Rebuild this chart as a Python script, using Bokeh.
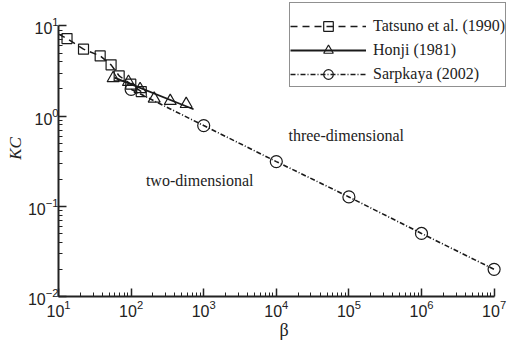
from bokeh.plotting import figure
from bokeh.models import (Legend, LegendItem, Label, FixedTicker, LogTickFormatter)
from bokeh.embed import file_html
from bokeh.resources import INLINE

# Tatsuno et al. (1990)
tatsuno_beta = [13.1, 22.1, 37.5, 53, 68.5, 99, 138]
tatsuno_kc = [7.23, 5.52, 4.65, 3.70, 2.79, 2.26, 1.87]
tatsuno_line_beta = [10, 13.1, 22.1, 37.5, 53, 68.5, 99, 138]
tatsuno_line_kc = [8.09, 7.23, 5.52, 4.65, 3.70, 2.79, 2.26, 1.87]

# Honji (1981)
honji_beta = [56.6, 92, 133, 208, 346, 574]
honji_kc = [2.63, 2.39, 1.99, 1.56, 1.47, 1.36]
honji_line_beta = [59, 725]
honji_line_kc = [2.67, 1.19]

# Sarpkaya (2002)
sarp_beta = [1e2, 1e3, 1e4, 1e5, 1e6, 1e7]
sarp_kc = [1.98, 0.785, 0.313, 0.127, 0.050, 0.020]

x_ticks = [1e1, 1e2, 1e3, 1e4, 1e5, 1e6, 1e7]
y_ticks = [1e-2, 1e-1, 1e0, 1e1]

x_minor = [m * 10 ** e for e in range(1, 7) for m in range(2, 10)]
y_minor = [m * 10 ** e for e in range(-2, 1) for m in range(2, 10)]

p = figure(width=509, height=345, x_axis_type="log", y_axis_type="log",
           x_range=(10, 10 ** 7.212), y_range=(0.01, 10 ** 1.2816),
           output_backend="svg", toolbar_location=None,
           min_border=0, min_border_left=58, min_border_right=0,
           min_border_top=0, min_border_bottom=49)
p.outline_line_color = None
p.grid.visible = False
p.background_fill_color = "white"
p.border_fill_color = "white"

for ax in (p.xaxis[0], p.yaxis[0]):
    ax.major_tick_in = 8
    ax.major_tick_out = 0
    ax.minor_tick_in = 4
    ax.minor_tick_out = 0
    ax.axis_line_width = 2
    ax.major_tick_line_width = 1.5
    ax.minor_tick_line_width = 1
    ax.axis_line_color = "#222222"
    ax.major_tick_line_color = "#222222"
    ax.minor_tick_line_color = "#222222"
    ax.major_label_text_font = "Liberation Sans"
    ax.major_label_text_font_size = "16px"
    ax.major_label_text_color = "#222222"
    ax.axis_label_text_font = "Liberation Serif"
    ax.axis_label_text_font_size = "18px"
    ax.axis_label_text_font_style = "normal"
    ax.axis_label_text_color = "#222222"
    ax.formatter = LogTickFormatter()

p.xaxis[0].ticker = FixedTicker(ticks=x_ticks, minor_ticks=x_minor)
p.yaxis[0].ticker = FixedTicker(ticks=y_ticks, minor_ticks=y_minor)
p.xaxis[0].bounds = (10, 1e7)
p.yaxis[0].bounds = (0.01, 10)
p.xaxis.axis_label = "β"
p.yaxis.axis_label = "KC"
p.yaxis.axis_label_text_font_style = "italic"
p.yaxis.axis_label_text_font_size = "17px"
p.xaxis.axis_label_standoff = 0
p.yaxis.axis_label_standoff = 0
p.xaxis.major_label_standoff = 3
p.yaxis.major_label_standoff = 0

col = "#1a1a1a"
t_line = p.line(tatsuno_line_beta, tatsuno_line_kc, line_color=col, line_width=1.5, line_dash="7 5")
t_mark = p.scatter(tatsuno_beta, tatsuno_kc, marker="square", size=10, fill_alpha=0,
                   line_color=col, line_width=1.2)
h_line = p.line(honji_line_beta, honji_line_kc, line_color=col, line_width=1.8)
h_mark = p.scatter(honji_beta, honji_kc, marker="triangle", size=12, fill_alpha=0,
                   line_color=col, line_width=1.2)
s_line = p.line(sarp_beta, sarp_kc, line_color=col, line_width=1.6, line_dash="5 2 1 2")
s_mark = p.scatter(sarp_beta, sarp_kc, marker="circle", size=12, fill_alpha=0,
                   line_color=col, line_width=1.2)

legend = Legend(items=[
    LegendItem(label="Tatsuno et al. (1990)", renderers=[t_line, t_mark]),
    LegendItem(label="Honji (1981)", renderers=[h_line, h_mark]),
    LegendItem(label="Sarpkaya (2002)", renderers=[s_line, s_mark]),
], location=(231, 209))
legend.title = " "
legend.title_text_font_size = "9px"
legend.title_standoff = 1
legend.glyph_width = 76
legend.glyph_height = 24
legend.spacing = 0
legend.padding = 0
legend.margin = 0
legend.label_standoff = 7
legend.label_text_font = "Liberation Serif"
legend.label_text_font_size = "16px"
legend.label_text_color = "#222222"
legend.border_line_color = "#222222"
legend.border_line_width = 1
legend.background_fill_alpha = 1
p.add_layout(legend, "center")

p.add_layout(Label(x=160, y=0.191, text="two-dimensional", text_font="Liberation Serif",
                   text_font_size="16px", text_baseline="middle", text_color="#222222"))
p.add_layout(Label(x=14700, y=0.603, text="three-dimensional", text_font="Liberation Serif",
                   text_font_size="16px", text_baseline="middle", text_color="#222222"))

open("out.html", "w").write(file_html(p, INLINE))
